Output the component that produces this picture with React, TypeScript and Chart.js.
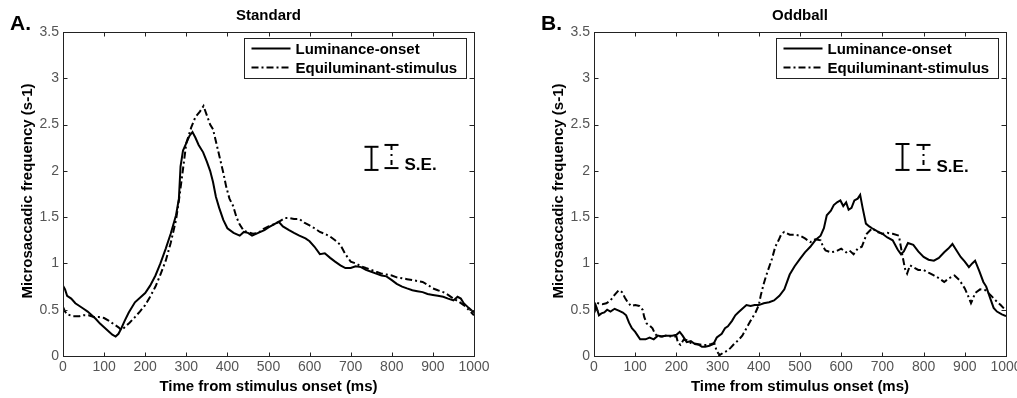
import React, { useEffect, useRef } from "react";
import { Chart, registerables } from "chart.js";
Chart.register(...registerables);

const FONT = '"Liberation Sans", Arial, Helvetica, sans-serif';
const TICK_FONT = '"Liberation Sans Narrow", "Liberation Sans", Arial, sans-serif';

// ---------- axis ticks ----------
const xTickValues = [0, 100, 200, 300, 400, 500, 600, 700, 800, 900, 1000];
const yTickValues = [0, 0.5, 1, 1.5, 2, 2.5, 3, 3.5];

// ---------- Standard panel ----------
const stdLumT = [0, 5, 10, 20, 30, 40, 50, 60, 70, 80, 90, 100, 110, 120, 128, 135, 142, 150, 160, 175, 190, 200, 212, 225, 237, 250, 262, 275, 282, 286, 292, 300, 308, 315, 322, 330, 341, 350, 358, 365, 372, 380, 390, 400, 415, 430, 440, 450, 460, 475, 490, 500, 512, 525, 535, 550, 562, 575, 590, 600, 612, 625, 637, 650, 662, 675, 687, 700, 712, 725, 737, 750, 762, 775, 787, 800, 812, 825, 837, 850, 862, 875, 887, 900, 912, 925, 937, 950, 960, 968, 975, 987, 1000];
const stdLumV = [0.76, 0.72, 0.65, 0.62, 0.57, 0.54, 0.51, 0.48, 0.44, 0.40, 0.35, 0.31, 0.27, 0.23, 0.21, 0.24, 0.30, 0.38, 0.47, 0.58, 0.64, 0.68, 0.76, 0.87, 1.00, 1.16, 1.32, 1.52, 1.70, 2.05, 2.22, 2.30, 2.38, 2.42, 2.36, 2.28, 2.20, 2.10, 2.00, 1.88, 1.72, 1.60, 1.47, 1.38, 1.33, 1.30, 1.34, 1.33, 1.30, 1.33, 1.36, 1.39, 1.42, 1.45, 1.40, 1.36, 1.33, 1.30, 1.27, 1.24, 1.18, 1.10, 1.11, 1.06, 1.02, 0.98, 0.95, 0.95, 0.97, 0.96, 0.93, 0.91, 0.89, 0.87, 0.86, 0.82, 0.78, 0.75, 0.73, 0.71, 0.70, 0.69, 0.67, 0.66, 0.65, 0.64, 0.62, 0.60, 0.64, 0.62, 0.57, 0.52, 0.47];

const stdEqT = [0, 5, 10, 25, 40, 50, 62, 75, 87, 100, 112, 125, 135, 142, 150, 162, 175, 187, 200, 212, 225, 237, 250, 262, 275, 282, 290, 300, 312, 322, 333, 342, 350, 358, 365, 373, 381, 390, 397, 405, 414, 422, 430, 440, 450, 462, 475, 487, 500, 512, 525, 540, 550, 562, 575, 587, 600, 612, 625, 637, 650, 662, 675, 687, 700, 712, 725, 737, 750, 762, 775, 787, 800, 812, 825, 837, 850, 862, 875, 887, 900, 912, 925, 937, 950, 962, 975, 987, 1000];
const stdEqV = [0.53, 0.48, 0.45, 0.43, 0.43, 0.44, 0.44, 0.42, 0.42, 0.41, 0.38, 0.34, 0.31, 0.28, 0.31, 0.36, 0.42, 0.48, 0.55, 0.64, 0.75, 0.88, 1.03, 1.22, 1.47, 1.68, 1.95, 2.30, 2.47, 2.58, 2.64, 2.70, 2.60, 2.50, 2.45, 2.30, 2.15, 1.98, 1.83, 1.70, 1.62, 1.50, 1.42, 1.35, 1.34, 1.32, 1.33, 1.37, 1.40, 1.42, 1.45, 1.49, 1.49, 1.48, 1.48, 1.44, 1.41, 1.38, 1.34, 1.32, 1.29, 1.25, 1.20, 1.10, 1.02, 1.00, 0.97, 0.95, 0.93, 0.91, 0.89, 0.88, 0.87, 0.85, 0.84, 0.83, 0.82, 0.81, 0.80, 0.77, 0.73, 0.71, 0.69, 0.66, 0.62, 0.59, 0.55, 0.50, 0.44];

// ---------- Oddball panel ----------
const oddLumT = [0, 4, 8, 12, 18, 25, 32, 40, 50, 60, 70, 78, 85, 92, 100, 106, 112, 125, 135, 145, 155, 165, 175, 190, 200, 208, 215, 225, 235, 245, 255, 262, 270, 280, 290, 298, 310, 318, 325, 335, 343, 350, 360, 370, 380, 390, 400, 412, 425, 437, 450, 462, 475, 487, 500, 512, 525, 537, 550, 558, 565, 575, 582, 590, 598, 605, 612, 618, 625, 632, 640, 646, 652, 660, 668, 675, 687, 700, 712, 725, 737, 745, 752, 762, 775, 787, 800, 812, 825, 837, 850, 860, 870, 880, 890, 900, 910, 918, 925, 935, 945, 952, 962, 970, 978, 990, 1000];
const oddLumV = [0.49, 0.55, 0.50, 0.44, 0.46, 0.47, 0.50, 0.48, 0.51, 0.49, 0.47, 0.44, 0.36, 0.30, 0.26, 0.22, 0.18, 0.18, 0.20, 0.18, 0.22, 0.21, 0.22, 0.22, 0.23, 0.26, 0.22, 0.15, 0.16, 0.13, 0.12, 0.10, 0.10, 0.11, 0.13, 0.20, 0.24, 0.30, 0.32, 0.38, 0.44, 0.47, 0.51, 0.55, 0.54, 0.55, 0.55, 0.57, 0.58, 0.60, 0.65, 0.72, 0.88, 0.97, 1.05, 1.12, 1.18, 1.25, 1.30, 1.38, 1.52, 1.57, 1.63, 1.66, 1.68, 1.62, 1.66, 1.58, 1.60, 1.68, 1.70, 1.74, 1.60, 1.43, 1.40, 1.38, 1.35, 1.32, 1.28, 1.25, 1.15, 1.10, 1.13, 1.22, 1.20, 1.13, 1.07, 1.04, 1.03, 1.06, 1.12, 1.16, 1.21, 1.14, 1.07, 1.02, 0.96, 1.00, 1.03, 0.92, 0.80, 0.75, 0.62, 0.52, 0.48, 0.45, 0.43];

const oddEqT = [0, 5, 10, 20, 30, 40, 50, 60, 68, 75, 82, 90, 100, 110, 118, 122, 128, 135, 142, 148, 155, 165, 175, 188, 200, 204, 210, 218, 225, 235, 250, 262, 275, 285, 292, 298, 305, 312, 325, 332, 340, 350, 360, 370, 380, 392, 400, 405, 412, 418, 425, 432, 440, 448, 455, 462, 475, 487, 500, 512, 525, 537, 550, 556, 562, 575, 587, 600, 612, 620, 630, 640, 650, 656, 662, 675, 687, 700, 712, 725, 740, 748, 755, 760, 767, 775, 787, 800, 812, 825, 837, 850, 862, 875, 887, 900, 907, 915, 920, 925, 937, 950, 962, 975, 987, 1000];
const oddEqV = [0.46, 0.52, 0.57, 0.56, 0.57, 0.60, 0.66, 0.71, 0.69, 0.63, 0.58, 0.54, 0.55, 0.54, 0.50, 0.42, 0.35, 0.33, 0.30, 0.24, 0.21, 0.21, 0.22, 0.21, 0.21, 0.14, 0.12, 0.18, 0.17, 0.14, 0.13, 0.12, 0.12, 0.13, 0.14, 0.05, 0.01, 0.03, 0.06, 0.09, 0.13, 0.17, 0.22, 0.30, 0.38, 0.47, 0.55, 0.66, 0.78, 0.87, 0.96, 1.05, 1.18, 1.25, 1.32, 1.34, 1.31, 1.31, 1.30, 1.27, 1.23, 1.26, 1.25, 1.18, 1.14, 1.12, 1.13, 1.16, 1.12, 1.14, 1.10, 1.16, 1.18, 1.25, 1.32, 1.38, 1.34, 1.32, 1.33, 1.32, 1.30, 1.10, 0.94, 0.89, 0.98, 0.96, 0.93, 0.93, 0.90, 0.87, 0.84, 0.80, 0.84, 0.87, 0.82, 0.73, 0.66, 0.57, 0.62, 0.68, 0.72, 0.71, 0.66, 0.60, 0.55, 0.49];

// ---------- S.E. markers (data units) ----------
const seStdX = [750, 799];
const seStdLow = [2.01, 2.03];
const seStdHigh = [2.26, 2.28];
const seOddX = [747, 798];
const seOddLow = [2.01, 2.01];
const seOddHigh = [2.29, 2.28];

const legendLabels = ["Luminance-onset", "Equiluminant-stimulus"];
const DASH_DOT = [7, 3, 2, 3];

type PanelDef = {
  letter: string;
  title: string;
  lumT: number[]; lumV: number[];
  eqT: number[]; eqV: number[];
  seX: number[]; seLow: number[]; seHigh: number[];
  yWidth: number; padRight: number;
};

const panels: PanelDef[] = [
  { letter: "A.", title: "Standard", lumT: stdLumT, lumV: stdLumV, eqT: stdEqT, eqV: stdEqV,
    seX: seStdX, seLow: seStdLow, seHigh: seStdHigh, yWidth: 63, padRight: 34 },
  { letter: "B.", title: "Oddball", lumT: oddLumT, lumV: oddLumV, eqT: oddEqT, eqV: oddEqV,
    seX: seOddX, seLow: seOddLow, seHigh: seOddHigh, yWidth: 86, padRight: 32 },
];

const toXY = (t: number[], v: number[]) => t.map((x, i) => ({ x, y: v[i] }));

function Panel({ p, left, width }: { p: PanelDef; left: number; width: number }) {
  const ref = useRef<HTMLCanvasElement>(null);
  useEffect(() => {
    const canvas = ref.current!;
    const decor = {
      id: "decor",
      afterDraw(chart: any) {
        const { ctx, chartArea: a, scales } = chart;
        const xs = scales.x, ys = scales.y;
        const line = (x1: number, y1: number, x2: number, y2: number) => {
          ctx.beginPath(); ctx.moveTo(x1, y1); ctx.lineTo(x2, y2); ctx.stroke();
        };
        ctx.save();
        // frame + inner ticks
        ctx.strokeStyle = "#222"; ctx.lineWidth = 1; ctx.setLineDash([]);
        const L = Math.round(a.left) + 0.5, R = Math.round(a.right) + 0.5;
        const T = Math.round(a.top) + 0.5, B = Math.round(a.bottom) + 0.5;
        ctx.strokeRect(L, T, R - L, B - T);
        for (const t of xTickValues) {
          const px = Math.round(xs.getPixelForValue(t)) + 0.5;
          line(px, B, px, B - 4); line(px, T, px, T + 4);
        }
        for (const v of yTickValues) {
          const py = Math.round(ys.getPixelForValue(v)) + 0.5;
          line(L, py, L + 4, py); line(R, py, R - 5, py);
        }
        // texts
        ctx.fillStyle = "#000";
        ctx.font = `bold 21px ${FONT}`;
        ctx.textAlign = "left"; ctx.textBaseline = "alphabetic";
        ctx.fillText(p.letter, a.left - 53, 30);
        ctx.font = `bold 15px ${FONT}`;
        ctx.textAlign = "center"; ctx.textBaseline = "middle";
        ctx.fillText(p.title, (a.left + a.right) / 2, 16);
        ctx.fillText("Time from stimulus onset (ms)", (a.left + a.right) / 2, 387);
        ctx.save();
        ctx.translate(a.left - 35, (a.top + a.bottom) / 2 - 3);
        ctx.rotate(-Math.PI / 2);
        ctx.fillText("Microsaccadic frequency (s-1)", 0, 0);
        ctx.restore();
        // legend
        const bw = 222, bh = 40;
        const bx = Math.round(a.right - 8 - bw) + 0.5, by = Math.round(a.top + 6) + 0.5;
        ctx.fillStyle = "#fff"; ctx.fillRect(bx, by, bw, bh);
        ctx.strokeStyle = "#222"; ctx.lineWidth = 1; ctx.strokeRect(bx, by, bw, bh);
        ctx.fillStyle = "#000"; ctx.strokeStyle = "#000"; ctx.lineWidth = 2;
        ctx.textAlign = "left"; ctx.font = `bold 15px ${FONT}`;
        const rows = [by + 10, by + 29];
        rows.forEach((ry, i) => {
          ctx.setLineDash(i === 0 ? [] : DASH_DOT);
          line(bx + 7, ry, bx + 46, ry);
          ctx.setLineDash([]);
          ctx.fillText(legendLabels[i], bx + 51, ry + 1);
        });
        // S.E. bars
        p.seX.forEach((sx, i) => {
          const px = Math.round(xs.getPixelForValue(sx)) + 0.5;
          const y1 = ys.getPixelForValue(p.seHigh[i]);
          const y2 = ys.getPixelForValue(p.seLow[i]);
          ctx.lineWidth = 2; ctx.strokeStyle = "#000";
          ctx.setLineDash([]);
          line(px - 7, y1, px + 7, y1);
          line(px - 7, y2, px + 7, y2);
          ctx.setLineDash(i === 0 ? [] : [5, 4, 2, 4]);
          line(px, y1, px, y2);
          ctx.setLineDash([]);
          if (i === p.seX.length - 1) {
            ctx.font = `bold 17px ${FONT}`;
            ctx.textAlign = "left"; ctx.textBaseline = "alphabetic";
            ctx.fillText("S.E.", px + 13, y2 + 2);
          }
        });
        ctx.restore();
      },
    };
    const tickFont = { family: TICK_FONT, size: 14 };
    const chart = new Chart(canvas, {
      type: "line",
      data: {
        datasets: [
          { label: legendLabels[0], data: toXY(p.lumT, p.lumV), borderColor: "#000", borderWidth: 2,
            pointRadius: 0, tension: 0, fill: false },
          { label: legendLabels[1], data: toXY(p.eqT, p.eqV), borderColor: "#000", borderWidth: 2,
            borderDash: DASH_DOT, pointRadius: 0, tension: 0, fill: false },
        ],
      },
      options: {
        responsive: false,
        animation: false,
        layout: { padding: { top: 32, right: p.padRight, left: 0, bottom: 0 } },
        plugins: { legend: { display: false }, tooltip: { enabled: false }, title: { display: false } },
        scales: {
          x: {
            type: "linear", min: 0, max: 1000,
            ticks: { stepSize: 100, font: tickFont, color: "#555", padding: 3, maxRotation: 0, autoSkip: false,
              callback: (v: any) => String(v) },
            grid: { display: false, drawTicks: false },
            border: { display: false },
            afterFit: (s: any) => { s.height = 42; },
          },
          y: {
            type: "linear", min: 0, max: 3.5,
            ticks: { stepSize: 0.5, font: tickFont, color: "#555", padding: 4, callback: (v: any) => String(v) },
            grid: { display: false, drawTicks: false },
            border: { display: false },
            afterFit: (s: any) => { s.width = p.yWidth; },
          },
        },
      } as any,
      plugins: [decor],
    });
    return () => chart.destroy();
  }, [p]);
  return (
    <canvas ref={ref} width={width} height={398}
      style={{ position: "absolute", left, top: 0, width, height: 398, display: "block" }} />
  );
}

export default function App() {
  return (
    <div style={{ position: "fixed", left: 0, top: 0, width: 1017, height: 398, overflow: "hidden", background: "#fff" }}>
      <Panel p={panels[0]} left={0} width={508} />
      <Panel p={panels[1]} left={508} width={530} />
    </div>
  );
}
